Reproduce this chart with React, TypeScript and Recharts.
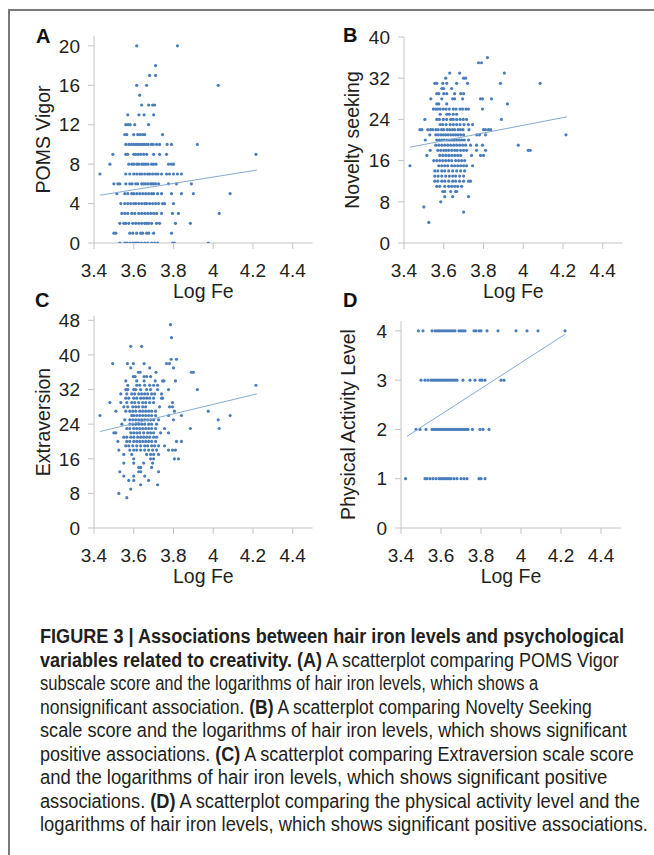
import { useLayoutEffect, useRef } from 'react';
import { ScatterChart, Scatter, XAxis, YAxis } from 'recharts';

type Row = [number, number[]];

// each row: [score, list of log Fe values]
const vigorRows: Row[] = [
  [20, [3.615, 3.82]],
  [18, [3.71]],
  [17, [3.68, 3.71]],
  [16, [3.615, 3.665, 4.025]],
  [15, [3.63]],
  [14, [3.64, 3.675, 3.695, 3.705]],
  [13, [3.57, 3.626, 3.652, 3.7]],
  [12, [3.56, 3.572, 3.582, 3.605, 3.675]],
  [11, [3.555, 3.565, 3.6, 3.62, 3.632, 3.645, 3.655, 3.745]],
  [10, [3.56, 3.575, 3.588, 3.6, 3.612, 3.622, 3.633, 3.643, 3.652, 3.663, 3.672, 3.688, 3.698, 3.715, 3.73, 3.768, 3.79, 3.92]],
  [9, [3.495, 3.56, 3.57, 3.6, 3.61, 3.622, 3.635, 3.65, 3.665, 3.7, 3.73, 3.765, 4.215]],
  [8, [3.48, 3.575, 3.59, 3.6, 3.615, 3.625, 3.64, 3.65, 3.66, 3.672, 3.69, 3.7, 3.712, 3.775, 3.79, 3.8]],
  [7, [3.43, 3.56, 3.58, 3.6, 3.615, 3.63, 3.64, 3.655, 3.67, 3.68, 3.695, 3.71, 3.722, 3.74, 3.765, 3.78, 3.8, 3.82, 3.84]],
  [6, [3.5, 3.52, 3.53, 3.56, 3.58, 3.592, 3.61, 3.62, 3.64, 3.65, 3.66, 3.672, 3.685, 3.692, 3.7, 3.71, 3.725, 3.775, 3.815, 3.89]],
  [5, [3.515, 3.555, 3.57, 3.59, 3.6, 3.615, 3.63, 3.645, 3.66, 3.675, 3.69, 3.7, 3.72, 3.74, 3.79, 3.84, 3.9, 4.085]],
  [4, [3.535, 3.555, 3.57, 3.585, 3.6, 3.61, 3.625, 3.64, 3.655, 3.665, 3.68, 3.695, 3.71, 3.725, 3.745, 3.755, 3.8]],
  [3, [3.54, 3.555, 3.57, 3.59, 3.605, 3.625, 3.64, 3.655, 3.67, 3.685, 3.7, 3.715, 3.74, 3.795, 3.825, 4.03]],
  [2, [3.53, 3.55, 3.56, 3.575, 3.595, 3.61, 3.625, 3.64, 3.655, 3.665, 3.675, 3.69, 3.715, 3.73, 3.81, 3.885]],
  [1, [3.5, 3.51, 3.58, 3.595, 3.615, 3.635, 3.645, 3.665, 3.675, 3.7, 3.79]],
  [0, [3.53, 3.555, 3.565, 3.58, 3.595, 3.605, 3.615, 3.625, 3.64, 3.655, 3.67, 3.69, 3.705, 3.72, 3.795, 3.805, 3.975]],
];

const noveltyRows: Row[] = [
  [36, [3.82]],
  [35, [3.775, 3.79]],
  [33, [3.63, 3.68, 3.905]],
  [32, [3.61, 3.7, 3.71]],
  [31, [3.555, 3.565, 3.595, 3.615, 3.665, 3.72, 3.885, 4.085]],
  [30, [3.59, 3.6, 3.64]],
  [29, [3.565, 3.575, 3.6, 3.615, 3.655, 3.685, 3.7]],
  [28, [3.535, 3.59, 3.645, 3.655, 3.695, 3.785, 3.795, 3.84]],
  [27, [3.565, 3.575, 3.615, 3.92]],
  [26, [3.548, 3.56, 3.57, 3.582, 3.598, 3.612, 3.628, 3.648, 3.662, 3.682, 3.695, 3.712, 3.724, 3.795]],
  [25, [3.582, 3.615, 3.628, 3.648, 3.665]],
  [24, [3.505, 3.565, 3.578, 3.598, 3.615, 3.635, 3.648, 3.665, 3.682, 3.698, 3.715, 3.89]],
  [23, [3.582, 3.595, 3.612, 3.632, 3.648, 3.665, 3.682, 3.702, 3.724, 3.745]],
  [22, [3.48, 3.49, 3.52, 3.534, 3.544, 3.56, 3.572, 3.589, 3.6, 3.617, 3.63, 3.644, 3.655, 3.672, 3.684, 3.697, 3.727, 3.8, 3.81, 3.825, 3.836]],
  [21, [3.53, 3.56, 3.572, 3.585, 3.598, 3.61, 3.622, 3.635, 3.648, 3.66, 3.672, 3.685, 3.7, 3.766, 3.78, 3.81, 4.215]],
  [20, [3.507, 3.565, 3.578, 3.59, 3.602, 3.615, 3.628, 3.64, 3.652, 3.665, 3.678, 3.69, 3.703, 3.725]],
  [19, [3.56, 3.575, 3.59, 3.605, 3.62, 3.635, 3.65, 3.665, 3.68, 3.695, 3.71, 3.735, 3.765, 3.795, 3.975]],
  [18, [3.532, 3.57, 3.585, 3.6, 3.612, 3.625, 3.64, 3.655, 3.668, 3.685, 3.7, 3.715, 3.765, 3.81, 4.025, 4.035]],
  [17, [3.515, 3.58, 3.595, 3.61, 3.625, 3.64, 3.655, 3.67, 3.685, 3.74, 3.785, 3.8]],
  [16, [3.55, 3.565, 3.58, 3.595, 3.61, 3.625, 3.64, 3.66, 3.675, 3.69, 3.705]],
  [15, [3.43, 3.575, 3.59, 3.605, 3.62, 3.64, 3.655, 3.67, 3.685, 3.7, 3.715, 3.745]],
  [14, [3.555, 3.57, 3.59, 3.605, 3.625, 3.645, 3.665, 3.685, 3.705]],
  [13, [3.555, 3.572, 3.59, 3.61, 3.628, 3.645, 3.66, 3.68, 3.7]],
  [12, [3.555, 3.57, 3.59, 3.605, 3.625, 3.645, 3.66, 3.68, 3.7, 3.725, 3.735]],
  [11, [3.565, 3.58, 3.605, 3.625, 3.64, 3.655, 3.67, 3.69]],
  [10, [3.595, 3.605, 3.635, 3.66, 3.665]],
  [9, [3.605, 3.645, 3.725]],
  [8, [3.585]],
  [7, [3.5]],
  [6, [3.7]],
  [4, [3.525]],
];

const extraversionRows: Row[] = [
  [47, [3.785]],
  [44, [3.79]],
  [42, [3.585, 3.64]],
  [39, [3.788, 3.815]],
  [38, [3.494, 3.568, 3.598, 3.652, 3.765, 3.78]],
  [37, [3.585, 3.68, 3.8]],
  [36, [3.624, 3.632, 3.712, 3.89, 3.9]],
  [35, [3.598, 3.607, 3.652, 3.665, 3.685]],
  [34, [3.56, 3.615, 3.652, 3.708, 3.745, 3.752, 3.81]],
  [33, [3.57, 3.615, 3.63, 3.655, 3.68, 3.7, 3.72, 4.215]],
  [32, [3.56, 3.57, 3.6, 3.61, 3.635, 3.665, 3.685, 3.72, 3.775, 3.92]],
  [31, [3.535, 3.565, 3.59, 3.605, 3.625, 3.64, 3.655, 3.67, 3.69, 3.705, 3.74]],
  [30, [3.56, 3.575, 3.6, 3.615, 3.635, 3.65, 3.665, 3.68, 3.7, 3.74, 3.745]],
  [29, [3.48, 3.535, 3.565, 3.59, 3.605, 3.625, 3.645, 3.66, 3.68, 3.7, 3.795]],
  [28, [3.55, 3.57, 3.595, 3.61, 3.625, 3.645, 3.66, 3.73, 3.78, 3.795]],
  [27, [3.51, 3.56, 3.58, 3.595, 3.61, 3.63, 3.645, 3.66, 3.675, 3.69, 3.71, 3.805, 3.975]],
  [26, [3.43, 3.59, 3.6, 3.615, 3.63, 3.645, 3.66, 3.675, 3.69, 3.71, 3.775, 3.84, 4.085]],
  [25, [3.555, 3.58, 3.595, 3.61, 3.625, 3.64, 3.655, 3.67, 3.685, 3.7, 3.725, 3.8, 4.025]],
  [24, [3.54, 3.58, 3.595, 3.61, 3.625, 3.64, 3.655, 3.675, 3.69, 3.715]],
  [23, [3.565, 3.58, 3.6, 3.615, 3.63, 3.645, 3.66, 3.675, 3.69, 3.71, 3.755, 3.885, 4.03]],
  [22, [3.5, 3.51, 3.585, 3.6, 3.615, 3.63, 3.65, 3.67, 3.685, 3.7, 3.735, 3.775]],
  [21, [3.55, 3.565, 3.585, 3.6, 3.62, 3.635, 3.65, 3.665, 3.68, 3.7, 3.715]],
  [20, [3.52, 3.565, 3.58, 3.6, 3.615, 3.63, 3.645, 3.66, 3.675, 3.69, 3.71, 3.815, 3.84]],
  [19, [3.56, 3.575, 3.595, 3.615, 3.635, 3.655, 3.67, 3.69, 3.705, 3.725, 3.755]],
  [18, [3.525, 3.58, 3.6, 3.615, 3.635, 3.655, 3.675, 3.695, 3.715, 3.775, 3.795, 3.81]],
  [17, [3.55, 3.59, 3.665, 3.685, 3.7, 3.725]],
  [16, [3.6, 3.685, 3.7, 3.805, 3.825]],
  [15, [3.55, 3.6, 3.65, 3.695]],
  [14, [3.625, 3.635, 3.69]],
  [13, [3.53, 3.625, 3.635, 3.725]],
  [12, [3.55, 3.6, 3.655]],
  [11, [3.575, 3.6, 3.675]],
  [10, [3.635, 3.72]],
  [9, [3.585]],
  [8, [3.525]],
  [7, [3.565]],
];

const activityRows: Row[] = [
  [4, [3.487, 3.51, 3.555, 3.57, 3.58, 3.59, 3.6, 3.61, 3.62, 3.63, 3.64, 3.65, 3.66, 3.67, 3.69, 3.7, 3.71, 3.72, 3.765, 3.775, 3.79, 3.8, 3.83, 3.885, 3.975, 4.03, 4.085, 4.22]],
  [3, [3.5, 3.52, 3.535, 3.55, 3.56, 3.57, 3.58, 3.59, 3.6, 3.61, 3.62, 3.63, 3.64, 3.65, 3.66, 3.67, 3.68, 3.71, 3.745, 3.77, 3.795, 3.805, 3.82, 3.9, 3.915]],
  [2, [3.475, 3.495, 3.525, 3.555, 3.565, 3.575, 3.585, 3.595, 3.605, 3.615, 3.625, 3.635, 3.645, 3.655, 3.665, 3.675, 3.685, 3.695, 3.705, 3.715, 3.725, 3.735, 3.757, 3.795, 3.81, 3.84]],
  [1, [3.423, 3.52, 3.53, 3.545, 3.56, 3.575, 3.59, 3.6, 3.61, 3.62, 3.63, 3.64, 3.65, 3.665, 3.68, 3.7, 3.715, 3.73, 3.79, 3.8, 3.82]],
];

// fitted trend line end points [log Fe, value]
const vigorTrend = [[3.43, 4.85], [4.22, 7.4]];
const noveltyTrend = [[3.43, 18.6], [4.22, 24.5]];
const extraversionTrend = [[3.43, 22.3], [4.22, 31.0]];
const activityTrend = [[3.43, 1.86], [4.22, 3.93]];

const xTicks = [3.4, 3.6, 3.8, 4.0, 4.2, 4.4];

// caption lines: plain strings are regular, one-item arrays are bold
const captionLines: (string | [string])[][] = [
  [['FIGURE 3 | Associations between hair iron levels and psychological']],
  [['variables related to creativity. (A)'], ' A scatterplot comparing POMS Vigor'],
  ['subscale score and the logarithms of hair iron levels, which shows a'],
  ['nonsignificant association. ', ['(B)'], ' A scatterplot comparing Novelty Seeking'],
  ['scale score and the logarithms of hair iron levels, which shows significant'],
  ['positive associations. ', ['(C)'], ' A scatterplot comparing Extraversion scale score'],
  ['and the logarithms of hair iron levels, which shows significant positive'],
  ['associations. ', ['(D)'], ' A scatterplot comparing the physical activity level and the'],
  ['logarithms of hair iron levels, which shows significant positive associations.'],
];
const captionWidths = [584, 579, 498, 552, 587, 594, 567, 600, 608];

const FONT = '"Liberation Sans", Arial, sans-serif';
const DOT = '#4a7ebb';
const TREND = '#86a9d6';
const AXIS = '#c4c4c4';
const INK = '#231f20';

const toPoints = (rows: Row[]) => rows.flatMap(([y, xs]) => xs.map((x) => ({ x, y })));

const Dot = (props: any) => <circle cx={props.cx} cy={props.cy} r={1.6} fill={DOT} />;

interface PanelProps {
  plot: { x: number; y: number; w: number; h: number };
  yDomain: [number, number];
  yTicks: number[];
  yTitle: string;
  titleX: number;
  rows: Row[];
  trend: number[][];
}

function Panel({ plot, yDomain, yTicks, yTitle, titleX, rows, trend }: PanelProps) {
  const yw = 80;
  const mt = 20;
  const mr = 12;
  const xh = 60;
  const left = plot.x - yw;
  const top = plot.y - mt;
  const width = yw + plot.w + mr;
  const height = mt + plot.h + xh;
  const points = toPoints(rows);
  const trendPts = trend.map(([x, y]) => ({ x, y }));
  const tick = { fill: INK, fontSize: 19, fontFamily: FONT };

  return (
    <div style={{ position: 'absolute', left, top, width, height }}>
      <ScatterChart width={width} height={height} margin={{ top: mt, right: mr, bottom: 0, left: 0 }}>
        <XAxis
          type="number"
          dataKey="x"
          domain={[3.4, 4.5]}
          ticks={xTicks}
          allowDataOverflow
          height={xh}
          stroke={AXIS}
          tickSize={6}
          tickMargin={15}
          tick={tick}
          tickFormatter={(v: number) => (Math.abs(v - 4) < 1e-6 ? '4' : v.toFixed(1))}
          label={{ value: 'Log Fe', position: 'insideBottom', offset: 5, style: { fill: INK, fontSize: 19.5, fontFamily: FONT } }}
        />
        <YAxis
          type="number"
          dataKey="y"
          domain={yDomain}
          ticks={yTicks}
          allowDataOverflow
          width={yw}
          stroke={AXIS}
          tickSize={6}
          tickMargin={8}
          tick={tick}
          label={{
            value: yTitle,
            angle: -90,
            position: 'insideLeft',
            offset: titleX - left,
            style: { textAnchor: 'middle', fill: INK, fontSize: 19.5, fontFamily: FONT },
          }}
        />
        <Scatter data={points} shape={Dot} isAnimationActive={false} />
        <Scatter
          data={trendPts}
          line={{ stroke: TREND, strokeWidth: 1 }}
          shape={() => <g />}
          isAnimationActive={false}
        />
      </ScatterChart>
    </div>
  );
}

const letterStyle = (left: number, top: number): React.CSSProperties => ({
  position: 'absolute',
  left,
  top,
  fontFamily: FONT,
  fontWeight: 'bold',
  fontSize: 20,
  lineHeight: '20px',
  color: '#111',
});

// one caption line, squeezed horizontally to the width it has in the figure
function CaptionLine({ parts, width, top }: { parts: (string | [string])[]; width: number; top: number }) {
  const ref = useRef<HTMLDivElement>(null);
  useLayoutEffect(() => {
    const el = ref.current;
    if (!el) return;
    const natural = el.scrollWidth;
    if (natural > 0) el.style.transform = `scaleX(${width / natural})`;
  }, [width]);
  return (
    <div
      ref={ref}
      style={{
        position: 'absolute',
        left: 40,
        top,
        display: 'inline-block',
        whiteSpace: 'nowrap',
        transformOrigin: '0 0',
        fontFamily: FONT,
        fontSize: 19.5,
        lineHeight: '23px',
        color: INK,
      }}
    >
      {parts.map((p, j) => (typeof p === 'string' ? <span key={j}>{p}</span> : <b key={j}>{p[0]}</b>))}
    </div>
  );
}

export default function App() {
  return (
    <div style={{ position: 'absolute', left: 0, top: 0, width: 654, height: 855, background: '#fff', overflow: 'hidden' }}>
      <div
        style={{
          position: 'absolute',
          left: 8,
          top: 9,
          width: 660,
          height: 845,
          borderTop: '2px solid #7a7a7a',
          borderLeft: '2px solid #7a7a7a',
        }}
      />
      <Panel plot={{ x: 94, y: 36, w: 218.6, h: 207 }} yDomain={[0, 21]} yTicks={[0, 4, 8, 12, 16, 20]} yTitle="POMS Vigor" titleX={43} rows={vigorRows} trend={vigorTrend} />
      <Panel plot={{ x: 404, y: 37, w: 218.6, h: 206 }} yDomain={[0, 40]} yTicks={[0, 8, 16, 24, 32, 40]} yTitle="Novelty seeking" titleX={352} rows={noveltyRows} trend={noveltyTrend} />
      <Panel plot={{ x: 94, y: 316, w: 218.6, h: 212 }} yDomain={[0, 49]} yTicks={[0, 8, 16, 24, 32, 40, 48]} yTitle="Extraversion" titleX={43} rows={extraversionRows} trend={extraversionTrend} />
      <Panel plot={{ x: 401, y: 321, w: 220, h: 207 }} yDomain={[0, 4.2]} yTicks={[0, 1, 2, 3, 4]} yTitle="Physical Activity Level" titleX={348} rows={activityRows} trend={activityTrend} />
      <div style={letterStyle(36, 26)}>A</div>
      <div style={letterStyle(343, 25)}>B</div>
      <div style={letterStyle(35, 290)}>C</div>
      <div style={letterStyle(343, 290)}>D</div>
      {captionLines.map((parts, i) => (
        <CaptionLine key={i} parts={parts} width={captionWidths[i]} top={625 + i * 23.5} />
      ))}
    </div>
  );
}
